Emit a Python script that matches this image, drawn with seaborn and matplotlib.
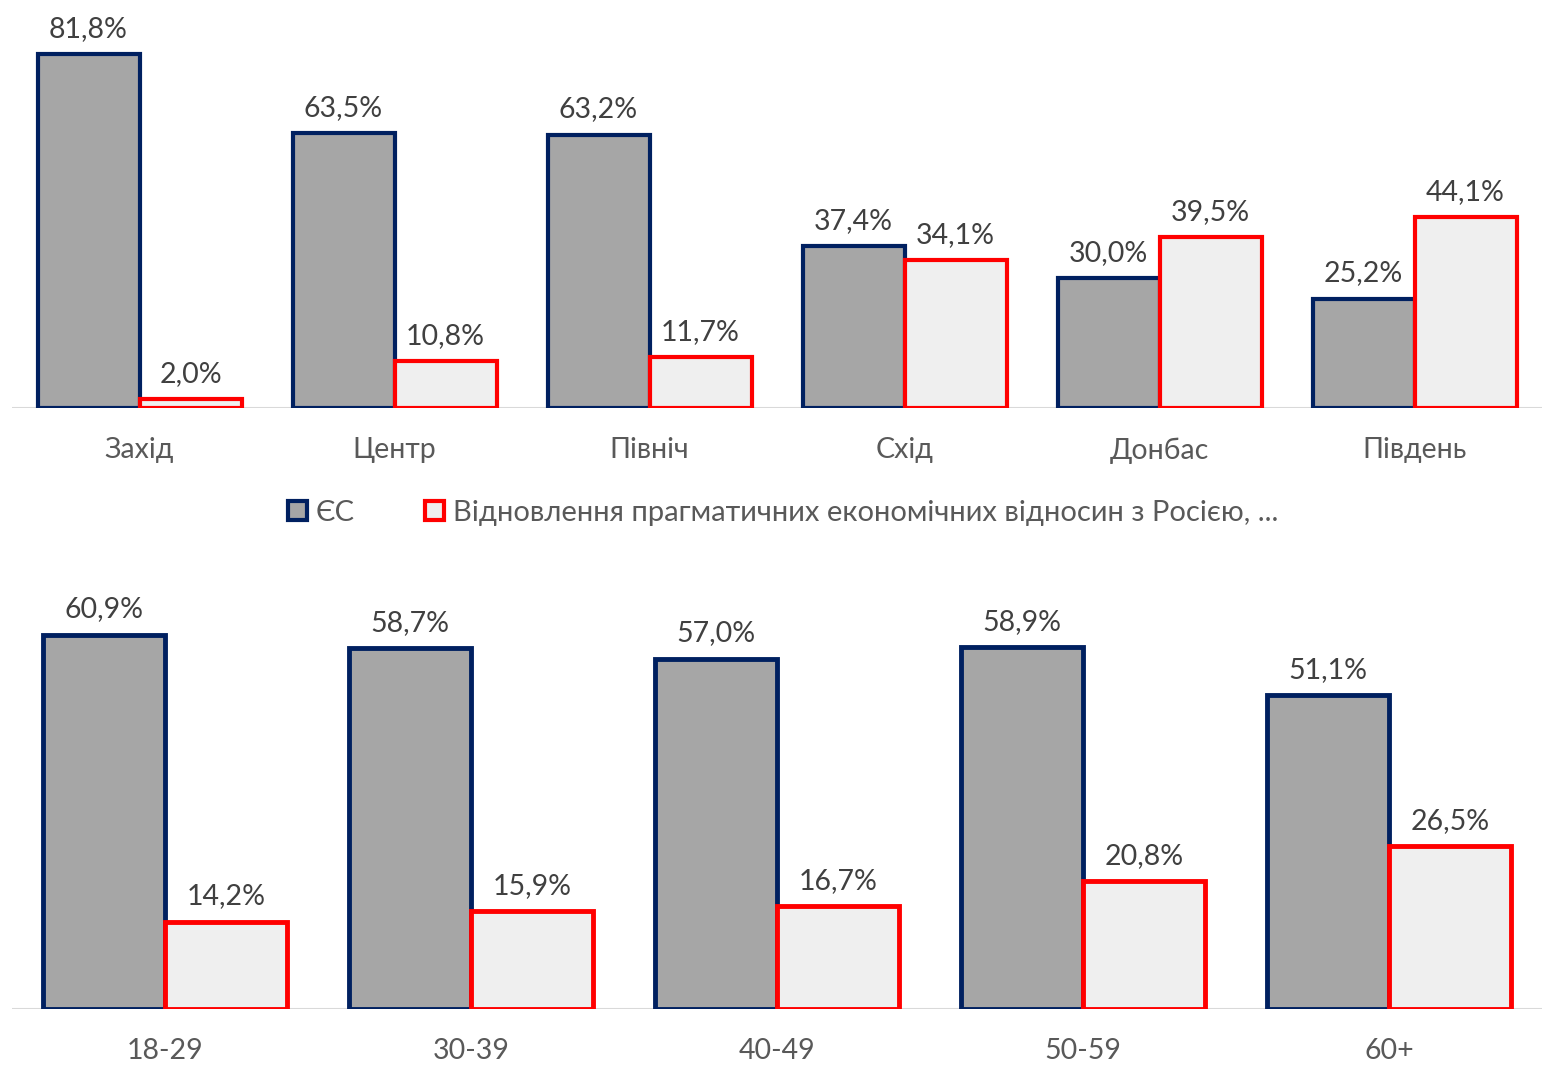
import matplotlib
matplotlib.use("Agg")
import matplotlib.pyplot as plt
from matplotlib.patches import Patch
import seaborn as sns
import pandas as pd

# Data
regions = ["Захід", "Центр", "Північ", "Схід", "Донбас", "Південь"]
eu_region = [81.8, 63.5, 63.2, 37.4, 30.0, 25.2]
ru_region = [2.0, 10.8, 11.7, 34.1, 39.5, 44.1]

ages = ["18-29", "30-39", "40-49", "50-59", "60+"]
eu_age = [60.9, 58.7, 57.0, 58.9, 51.1]
ru_age = [14.2, 15.9, 16.7, 20.8, 26.5]

s_eu = "ЄС"
s_ru = "Відновлення прагматичних економічних відносин з Росією, ..."

sns.set_style("white")
plt.rcParams["font.family"] = ["Lato", "DejaVu Sans"]

fill = {s_eu: "#a6a6a6", s_ru: "#efefef"}
edge = {s_eu: "#002060", s_ru: "#ff0000"}
txt = "#404040"
tick = "#595959"
fs = 20.5

fig = plt.figure(figsize=(15.42, 10.68), dpi=100)
ax1 = fig.add_axes([0.0078, 0.618, 0.9922, 0.382])
ax2 = fig.add_axes([0.0078, 0.0552, 0.9922, 0.4205])


def draw(ax, cats, eu, ru, ymax, lw):
    df = pd.DataFrame({
        "cat": cats * 2,
        "series": [s_eu] * len(cats) + [s_ru] * len(cats),
        "val": eu + ru,
    })
    ax.axhline(0, color="#d9d9d9", lw=1.5, zorder=0)
    sns.barplot(data=df, x="cat", y="val", hue="series", palette=fill,
                hue_order=[s_eu, s_ru], width=0.8, gap=0, legend=False,
                ax=ax, zorder=2)
    for cont, name, vals in zip(ax.containers, [s_eu, s_ru], [eu, ru]):
        for b in cont:
            b.set_edgecolor(edge[name])
            b.set_linewidth(lw)
        labels = [f"{v:.1f}%".replace(".", ",") for v in vals]
        ax.bar_label(cont, labels=labels, padding=9, fontsize=fs, color=txt)
    ax.set_ylim(0, ymax)
    ax.set_xlim(-0.5, len(cats) - 0.5)
    ax.set_xlabel("")
    ax.set_ylabel("")
    ax.set_yticks([])
    ax.tick_params(axis="x", length=0, labelsize=fs, labelcolor=tick, pad=21)
    sns.despine(ax=ax, left=True, bottom=True)
    ax.patch.set_alpha(0)


draw(ax1, regions, eu_region, ru_region, 94.3, 3.0)
draw(ax2, ages, eu_age, ru_age, 73.1, 3.5)

handles = [Patch(facecolor=fill[s], edgecolor=edge[s], linewidth=3) for s in [s_eu, s_ru]]
fig.legend(handles, [s_eu, s_ru], loc="center", bbox_to_anchor=(0.508, 1 - 513 / 1068),
           ncol=2, frameon=False, fontsize=21, labelcolor=tick,
           handlelength=0.65, handleheight=0.65, handletextpad=0.3, columnspacing=2.4)

fig.savefig("out.png", dpi=100)
